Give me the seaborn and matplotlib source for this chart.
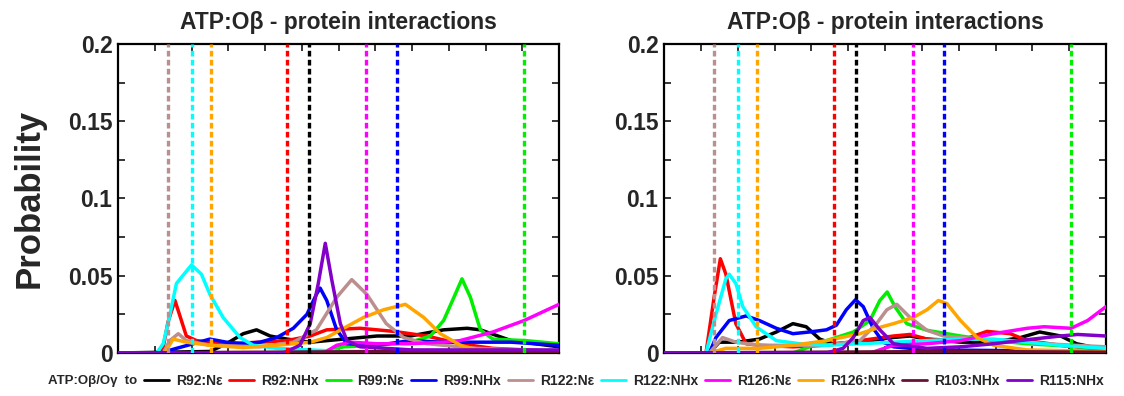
import numpy as np
import pandas as pd
import seaborn as sns
import matplotlib
matplotlib.use("Agg")
import matplotlib.pyplot as plt
from matplotlib.ticker import MultipleLocator, FuncFormatter

# series names and colours (legend order)
names = ["R92:Nε", "R92:NHx", "R99:Nε", "R99:NHx", "R122:Nε",
         "R122:NHx", "R126:Nε", "R126:NHx", "R103:NHx", "R115:NHx"]
colores = ["#000000", "#ff0000", "#00ee00", "#0000ff", "#bc8f8f",
           "#00ffff", "#ff00ff", "#ffa500", "#6b1035", "#8200c8"]

# reference positions (dashed lines), same for both panels
ref_names = ["R122:Nε", "R122:NHx", "R126:NHx", "R92:NHx", "R92:Nε",
             "R126:Nε", "R99:NHx", "R99:Nε"]
ref_x = [1.37, 2.0, 2.52, 4.61, 5.21, 6.75, 7.59, 11.05]

# ---- left panel ----
a_black_x = [0, 2.5, 2.95, 3.41, 3.77, 4.14, 4.6, 5.23, 6.14, 7.05, 7.95, 8.86, 9.5, 9.86, 10.7, 12]
a_black_y = [0, 0.001, 0.006, 0.0125, 0.015, 0.011, 0.009, 0.007, 0.009, 0.011, 0.011, 0.015, 0.016, 0.015, 0.008, 0.004]
a_red_x = [0, 1.2, 1.36, 1.55, 1.86, 2.14, 2.95, 3.86, 4.59, 5.23, 5.68, 6.59, 7.5, 8.4, 9.3, 10.2, 12]
a_red_y = [0, 0, 0.02, 0.034, 0.011, 0.008, 0.006, 0.007, 0.008, 0.011, 0.015, 0.016, 0.014, 0.011, 0.006, 0.003, 0.001]
a_green_x = [0, 5.4, 6.14, 7.05, 7.95, 8.5, 8.86, 9.14, 9.36, 9.59, 9.86, 10.2, 11.1, 12]
a_green_y = [0, 0, 0.004, 0.005, 0.007, 0.011, 0.021, 0.036, 0.048, 0.036, 0.015, 0.009, 0.008, 0.006]
a_blue_x = [0, 1.14, 1.59, 2.05, 2.5, 2.95, 3.41, 3.86, 4.32, 4.77, 5.14, 5.4, 5.5, 5.68, 5.95, 6.23, 7.05, 7.95, 8.86, 9.77, 10.7, 12]
a_blue_y = [0, 0, 0.003, 0.006, 0.009, 0.007, 0.006, 0.007, 0.010, 0.016, 0.025, 0.038, 0.042, 0.034, 0.015, 0.006, 0.005, 0.008, 0.007, 0.007, 0.007, 0.005]
a_brown_x = [0, 1.23, 1.41, 1.64, 1.86, 2.5, 3.86, 4.77, 5.4, 5.95, 6.36, 6.77, 7.3, 7.77, 8.4, 9.77, 12]
a_brown_y = [0, 0, 0.008, 0.0125, 0.008, 0.005, 0.004, 0.007, 0.015, 0.036, 0.0475, 0.038, 0.019, 0.010, 0.006, 0.003, 0.001]
a_cyan_x = [0, 1.05, 1.23, 1.36, 1.59, 2.0, 2.27, 2.5, 2.86, 3.32, 3.68, 4.32, 5.2, 6.1, 12]
a_cyan_y = [0, 0, 0.006, 0.019, 0.045, 0.057, 0.051, 0.038, 0.023, 0.010, 0.005, 0.003, 0.002, 0.001, 0.0005]
a_magenta_x = [0, 5.6, 5.95, 6.32, 7.05, 7.95, 8.86, 9.3, 10.2, 11.05, 12]
a_magenta_y = [0, 0, 0.005, 0.007, 0.006, 0.006, 0.007, 0.008, 0.0136, 0.021, 0.0315]
a_orange_x = [0, 1.27, 1.5, 1.86, 2.5, 3.41, 4.32, 5.23, 5.68, 6.14, 6.68, 7.23, 7.82, 8.32, 8.77, 9.32, 9.77, 12]
a_orange_y = [0, 0, 0.009, 0.007, 0.005, 0.0035, 0.005, 0.007, 0.010, 0.016, 0.023, 0.028, 0.0315, 0.023, 0.0125, 0.005, 0.002, 0.001]
a_maroon_x = [0, 4, 8, 12]
a_maroon_y = [0, 0.0005, 0.001, 0.0005]
a_purple_x = [0, 4.5, 4.95, 5.23, 5.45, 5.64, 5.82, 6.05, 6.23, 6.59, 8.0, 12]
a_purple_y = [0, 0, 0.005, 0.019, 0.045, 0.071, 0.047, 0.019, 0.008, 0.004, 0.002, 0.002]

# ---- right panel ----
b_black_x = [0, 1.23, 1.5, 2.0, 2.59, 3.05, 3.5, 3.86, 4.23, 4.59, 5.3, 6.2, 6.68, 7.14, 8.05, 8.95, 9.68, 10.2, 10.77, 11.2, 12]
b_black_y = [0, 0, 0.007, 0.007, 0.009, 0.0136, 0.019, 0.017, 0.009, 0.006, 0.007, 0.010, 0.011, 0.009, 0.007, 0.007, 0.010, 0.0136, 0.011, 0.006, 0.002]
b_red_x = [0, 1.14, 1.36, 1.53, 1.68, 1.95, 2.23, 2.59, 3.5, 4.41, 5.32, 6.23, 6.68, 7.14, 8.05, 8.77, 9.4, 9.86, 10.77, 12]
b_red_y = [0, 0, 0.036, 0.061, 0.051, 0.019, 0.006, 0.005, 0.004, 0.005, 0.008, 0.011, 0.012, 0.009, 0.008, 0.014, 0.0125, 0.008, 0.005, 0.002]
b_green_x = [0, 3.5, 3.95, 4.41, 5.14, 5.59, 5.86, 6.06, 6.27, 6.59, 7.14, 8.05, 8.95, 9.86, 12]
b_green_y = [0, 0, 0.004, 0.008, 0.0136, 0.021, 0.034, 0.0395, 0.030, 0.019, 0.0147, 0.011, 0.008, 0.006, 0.003]
b_blue_x = [0, 1.23, 1.41, 1.77, 2.23, 2.59, 3.05, 3.5, 3.95, 4.41, 4.68, 4.95, 5.2, 5.41, 5.68, 5.95, 6.23, 7.14, 12]
b_blue_y = [0, 0, 0.010, 0.021, 0.024, 0.021, 0.016, 0.0125, 0.0136, 0.015, 0.018, 0.028, 0.0345, 0.030, 0.016, 0.007, 0.004, 0.002, 0.001]
b_brown_x = [0, 1.23, 1.59, 1.95, 2.59, 4.41, 5.32, 5.77, 6.05, 6.32, 6.68, 7.14, 7.59, 8.5, 9.4, 10.32, 12]
b_brown_y = [0, 0, 0.010, 0.007, 0.005, 0.005, 0.008, 0.019, 0.028, 0.0315, 0.023, 0.0147, 0.011, 0.009, 0.008, 0.006, 0.004]
b_cyan_x = [0, 1.14, 1.41, 1.68, 1.77, 1.95, 2.14, 2.5, 3.05, 3.68, 4.41, 5.32, 6.23, 7.14, 8.05, 8.95, 9.86, 10.77, 12]
b_cyan_y = [0, 0, 0.025, 0.048, 0.051, 0.045, 0.030, 0.017, 0.008, 0.006, 0.005, 0.006, 0.007, 0.008, 0.009, 0.009, 0.007, 0.005, 0.003]
b_magenta_x = [0, 5.6, 6.23, 7.14, 8.05, 8.95, 9.86, 10.32, 11.05, 11.5, 12]
b_magenta_y = [0, 0, 0.005, 0.006, 0.008, 0.0125, 0.016, 0.017, 0.016, 0.021, 0.030]
b_orange_x = [0, 1.23, 1.68, 2.59, 3.5, 4.41, 5.32, 5.77, 6.23, 6.77, 7.14, 7.45, 7.68, 8.05, 8.5, 8.95, 9.86, 12]
b_orange_y = [0, 0, 0.003, 0.003, 0.005, 0.008, 0.0125, 0.016, 0.019, 0.023, 0.028, 0.034, 0.032, 0.021, 0.010, 0.005, 0.002, 0.001]
b_maroon_x = [0, 4, 8, 12]
b_maroon_y = [0, 0.0005, 0.001, 0.0005]
b_purple_x = [0, 4.41, 4.86, 5.14, 5.41, 5.59, 5.86, 6.23, 7.14, 8.05, 8.95, 9.86, 10.77, 11.23, 12]
b_purple_y = [0, 0, 0.003, 0.010, 0.021, 0.023, 0.015, 0.006, 0.003, 0.004, 0.006, 0.0086, 0.011, 0.012, 0.011]

panel_a = [(a_black_x, a_black_y), (a_red_x, a_red_y), (a_green_x, a_green_y),
           (a_blue_x, a_blue_y), (a_brown_x, a_brown_y), (a_cyan_x, a_cyan_y),
           (a_magenta_x, a_magenta_y), (a_orange_x, a_orange_y),
           (a_maroon_x, a_maroon_y), (a_purple_x, a_purple_y)]
panel_b = [(b_black_x, b_black_y), (b_red_x, b_red_y), (b_green_x, b_green_y),
           (b_blue_x, b_blue_y), (b_brown_x, b_brown_y), (b_cyan_x, b_cyan_y),
           (b_magenta_x, b_magenta_y), (b_orange_x, b_orange_y),
           (b_maroon_x, b_maroon_y), (b_purple_x, b_purple_y)]


def tabla(panel):
    filas = []
    for nom, (xs, ys) in zip(names, panel):
        for x, y in zip(xs, ys):
            filas.append({"pair": nom, "dist": x, "prob": y})
    return pd.DataFrame(filas)


sns.set_style("ticks")
plt.rcParams['font.family'] = ['Liberation Sans', 'DejaVu Sans']
plt.rcParams['font.weight'] = 'bold'

paleta = dict(zip(names, colores))
ref_col = [paleta[n] for n in ref_names]

fig = plt.figure(figsize=(11.24, 3.96), dpi=100)
ax1 = fig.add_axes([118 / 1124, 43 / 396, 441 / 1124, 309 / 396])
ax2 = fig.add_axes([664 / 1124, 43 / 396, 442 / 1124, 309 / 396])

for ax, panel, leyenda in [(ax1, panel_a, True), (ax2, panel_b, False)]:
    df = tabla(panel)
    sns.lineplot(data=df, x="dist", y="prob", hue="pair", hue_order=names,
                 palette=paleta, units="pair", estimator=None, sort=False,
                 linewidth=2.5, legend=leyenda, ax=ax, zorder=3)
    for xv, c in zip(ref_x, ref_col):
        ax.axvline(xv, color=c, linewidth=2.4, dashes=(1.7, 1.0), zorder=4)
    ax.set_xlim(0, 12)
    ax.set_ylim(0, 0.2)
    ax.xaxis.set_major_locator(MultipleLocator(1))
    ax.yaxis.set_major_locator(MultipleLocator(0.05))
    ax.yaxis.set_minor_locator(MultipleLocator(0.025))
    ax.yaxis.set_major_formatter(FuncFormatter(lambda v, p: '%g' % round(v, 3)))
    ax.tick_params(axis='both', which='both', direction='in', top=True, right=True,
                   length=5, width=1.3)
    ax.tick_params(axis='x', labelbottom=False)
    ax.tick_params(axis='y', labelsize=16.5, pad=4)
    for lab in ax.get_yticklabels():
        lab.set_fontweight('bold')
    for sp in ax.spines.values():
        sp.set_linewidth(1.6)
        sp.set_color('black')
    ax.set_xlabel("")
    ax.set_ylabel("")
    ax.set_title("ATP:Oβ - protein interactions", fontsize=16.5, fontweight='bold', pad=11)

ax1.set_ylabel("Probability", fontsize=25, fontweight='bold', labelpad=16)

handles, labels = ax1.get_legend_handles_labels()
ax1.get_legend().remove()
for h in handles:
    h.set_linewidth(2.0)
fig.text(48 / 1124, 15 / 396, "ATP:Oβ/Oγ  to", fontsize=9.5, fontweight='bold',
         va='center', ha='left')
fig.legend(handles, labels, loc='center left', bbox_to_anchor=(134 / 1124, 15 / 396),
           ncol=10, frameon=False, handlelength=1.8, handletextpad=0.5,
           columnspacing=0.5, borderpad=0.2, prop={'size': 10, 'weight': 'bold'})

plt.savefig("out.png", dpi=100)
